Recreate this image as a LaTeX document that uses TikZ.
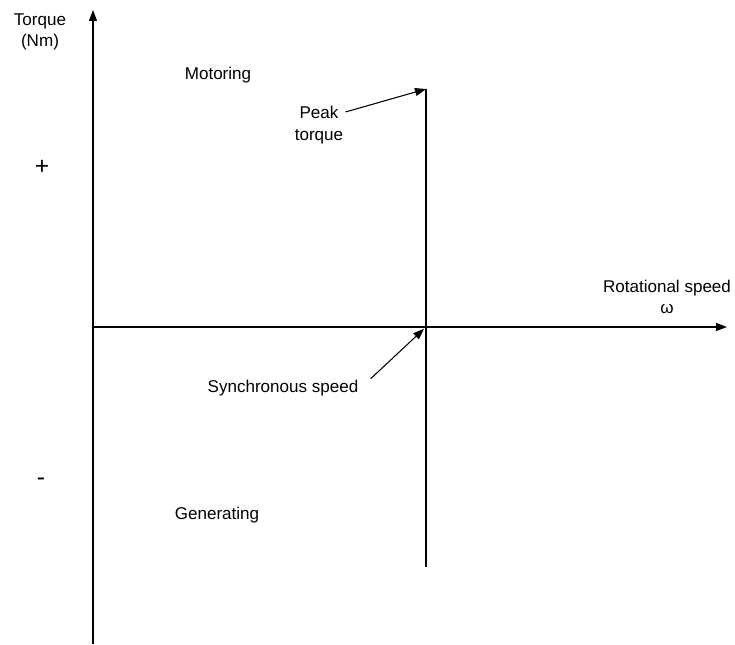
\documentclass[tikz,border=0pt]{standalone}
\usepackage{fontspec}
\setmainfont{Liberation Sans}
\usetikzlibrary{arrows.meta,positioning,calc}

\tikzset{
  lbl/.style={inner sep=0pt,align=center,font=\fontsize{9.7}{12.2}\selectfont},
  sign/.style={inner sep=0pt,font=\fontsize{14}{16}\selectfont},
  axis/.style={line width=0.6pt,-{Triangle[length=2.2mm,width=1.6mm]}},
  pointer/.style={line width=0.6pt,-{Triangle[length=2.2mm,width=1.6mm]}}
}

\begin{document}
\begin{tikzpicture}[x=1cm,y=1cm]
  \useasboundingbox (-1.86,-6.34) rectangle (12.84,6.54);

  % ------- 軸 -------
  \coordinate (O) at (0,0);
  \coordinate (ybot) at (0,-6.34);
  \coordinate (ytop) at (0,6.34);
  \coordinate (xend) at (12.68,0);
  \draw[axis] (ybot) -- (ytop);
  \draw[axis] (O) -- (xend);

  % ------- 同期速度の縦線 -------
  \coordinate (peak) at (6.66,4.76);
  \coordinate (sync) at (6.66,0);
  \coordinate (synbot) at (6.66,-4.8);
  \draw[line width=0.6pt] (peak) -- (synbot);

  % ------- ラベル -------
  \node[lbl] (torquelbl) at (-1.06,5.9) {Torque\\(Nm)};
  \node[lbl] (speedlbl) at (11.48,0.6) {Rotational speed\\ω};
  \node[sign] (plus) at (-1.02,3.2) {+};
  \node[sign] (minus) at (-1.04,-3.1) {-};
  \node[lbl] (motorlbl) at (2.5,5.04) {Motoring};
  \node[lbl] (genlbl) at (2.48,-3.76) {Generating};
  \node[lbl] (peaklbl) at (4.52,4.04) {Peak\\torque};
  \node[lbl] (synlbl) at (3.8,-1.22) {Synchronous speed};

  % ------- 指示矢印 -------
  \draw[pointer] ([shift={(0.04,-0.12)}]peaklbl.north east) -- (peak);
  \draw[pointer,shorten >=1.5pt] ([shift={(0.24,0.02)}]synlbl.north east) -- (sync);

\end{tikzpicture}
\end{document}
